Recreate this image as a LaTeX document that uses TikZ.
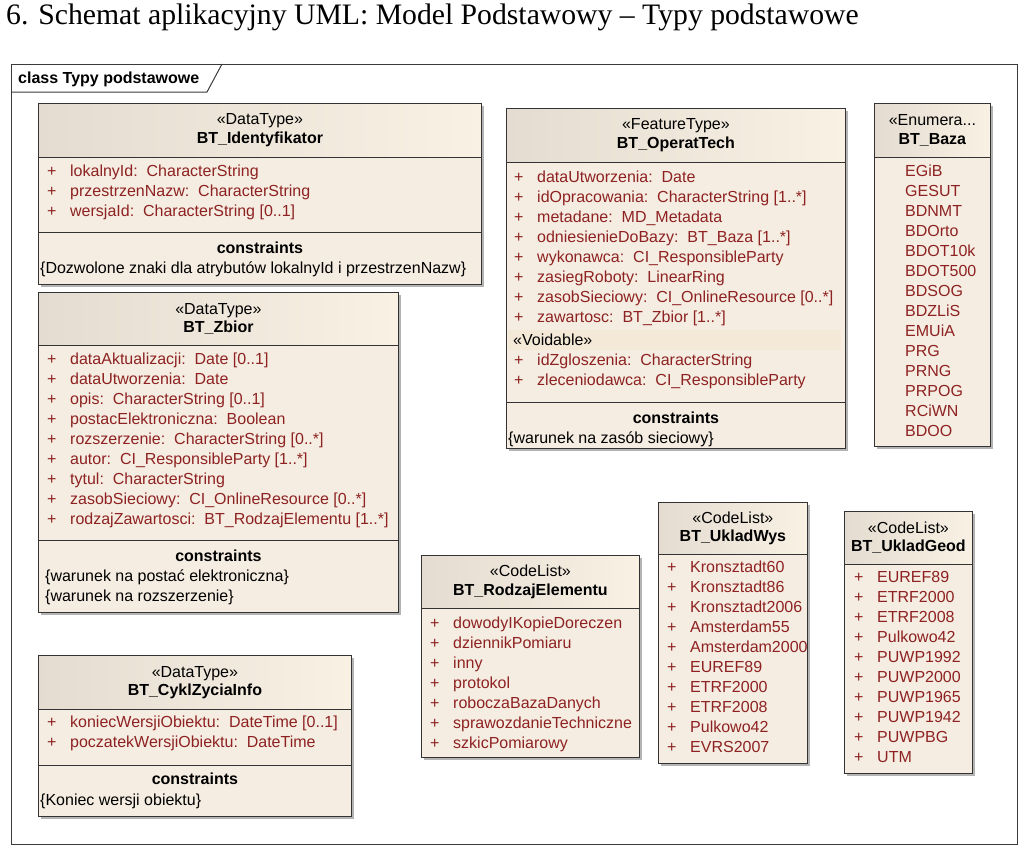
\documentclass[tikz,border=0pt]{standalone}
\usepackage{fontspec}
\setmainfont{Liberation Sans}
\newfontfamily\titlefont{Liberation Serif}
\usetikzlibrary{shadows}
\definecolor{body}{HTML}{F5EDE1}
\definecolor{hdrl}{HTML}{E4DCD0}
\definecolor{hdrr}{HTML}{F9F1E4}
\definecolor{voidband}{HTML}{F4E9D7}
\definecolor{attred}{HTML}{8E2222}
\definecolor{shade}{HTML}{B4B4B4}
\definecolor{frameline}{HTML}{3A3A3A}

\newcommand{\plusrows}[1]{\begin{tabular}[t]{@{}p{23pt}@{}l@{}}#1\end{tabular}}
\newcommand{\plainrows}[1]{\begin{tabular}[t]{@{}l@{}}#1\end{tabular}}

\begin{document}
\begin{tikzpicture}[
  x=1pt, y=-1pt,
  font=\fontsize{16}{20}\selectfont,
  cls/.style={draw=black!80, line width=0.8pt, fill=body, anchor=north west, inner sep=0pt,
              drop shadow={shadow xshift=3pt, shadow yshift=-3pt, fill=shade, opacity=1}},
  hdr/.style={draw=black!80, line width=0.8pt, left color=hdrl, right color=hdrr,
              anchor=north west, inner sep=0pt, align=center,
              font=\fontsize{16}{18.5}\selectfont,
              execute at begin node=\rule{0pt}{17.5pt}},
  attr/.style={anchor=base west, inner sep=0pt, text=attred},
  cons/.style={anchor=base west, inner sep=0pt},
  ctitle/.style={anchor=base, inner sep=0pt, font=\fontsize{16}{20}\selectfont\bfseries},
  sep/.style={draw=black!80, line width=0.8pt},
  void/.style={fill=voidband, anchor=north west, inner xsep=5pt, inner ysep=0pt,
               minimum height=20pt, text width=323pt, align=left},
]
\useasboundingbox (0,0) rectangle (1024,851);

\node[anchor=base west, inner sep=0pt, font=\titlefont\fontsize{29.7}{32}\selectfont] (title) at (6,25)
  {6. Schemat aplikacyjny UML: Model Podstawowy – Typy podstawowe};

% diagram frame
\node[draw=frameline, line width=1.2pt, anchor=north west, inner sep=0pt,
      minimum width=1006pt, minimum height=780pt] (frm) at (11,64) {};
\draw[frameline, line width=1pt] (11,92) -- (207,92) -- (222,64);
\node[anchor=base west, inner sep=0pt, font=\fontsize{16}{18}\selectfont\bfseries] (frm-t) at (18,83) {class Typy podstawowe};

% BT_Identyfikator
\node[cls, minimum width=443pt, minimum height=181pt] (idf) at (38,103) {};
\node[hdr, minimum width=443pt, minimum height=54pt] (idf-h) at (idf.north west) {«DataType»\\\textbf{BT\_Identyfikator}};
\draw[sep] (idf.west |- 0,232) -- (idf.east |- 0,232);
\node[attr] (idf-a) at (47,176) {\plusrows{+ & lokalnyId:~~CharacterString\\ + & przestrzenNazw:~~CharacterString\\ + & wersjaId:~~CharacterString [0..1]}};
\node[ctitle] (idf-c) at (idf.center |- 0,253) {constraints};
\node[cons] (idf-k) at (40,273) {\{Dozwolone znaki dla atrybutów lokalnyId i przestrzenNazw\}};

% BT_Zbior
\node[cls, minimum width=360pt, minimum height=320pt] (zb) at (38,292) {};
\node[hdr, minimum width=360pt, minimum height=53pt] (zb-h) at (zb.north west) {«DataType»\\\textbf{BT\_Zbior}};
\draw[sep] (zb.west |- 0,540) -- (zb.east |- 0,540);
\node[attr] (zb-a) at (47,364) {\plusrows{+ & dataAktualizacji:~~Date [0..1]\\ + & dataUtworzenia:~~Date\\ + & opis:~~CharacterString [0..1]\\ + & postacElektroniczna:~~Boolean\\ + & rozszerzenie:~~CharacterString [0..*]\\ + & autor:~~CI\_ResponsibleParty [1..*]\\ + & tytul:~~CharacterString\\ + & zasobSieciowy:~~CI\_OnlineResource [0..*]\\ + & rodzajZawartosci:~~BT\_RodzajElementu [1..*]}};
\node[ctitle] (zb-c) at (zb.center |- 0,561) {constraints};
\node[cons] (zb-k) at (45,581) {\plainrows{\{warunek na postać elektroniczna\}\\ \{warunek na rozszerzenie\}}};

% BT_OperatTech
\node[cls, minimum width=339pt, minimum height=340pt] (op) at (506,108) {};
\node[hdr, minimum width=339pt, minimum height=54pt] (op-h) at (op.north west) {«FeatureType»\\\textbf{BT\_OperatTech}};
\node[void] (op-v) at (508,330) {«Voidable»};
\draw[sep] (op.west |- 0,402) -- (op.east |- 0,402);
\node[attr] (op-a) at (514,182) {\plusrows{+ & dataUtworzenia:~~Date\\ + & idOpracowania:~~CharacterString [1..*]\\ + & metadane:~~MD\_Metadata\\ + & odniesienieDoBazy:~~BT\_Baza [1..*]\\ + & wykonawca:~~CI\_ResponsibleParty\\ + & zasiegRoboty:~~LinearRing\\ + & zasobSieciowy:~~CI\_OnlineResource [0..*]\\ + & zawartosc:~~BT\_Zbior [1..*]}};
\node[attr] (op-b) at (514,365) {\plusrows{+ & idZgloszenia:~~CharacterString\\ + & zleceniodawca:~~CI\_ResponsibleParty}};
\node[ctitle] (op-c) at (op.center |- 0,423) {constraints};
\node[cons] (op-k) at (508,443) {\{warunek na zasób sieciowy\}};

% BT_Baza
\node[cls, minimum width=116pt, minimum height=343pt] (bz) at (874,103) {};
\node[hdr, minimum width=116pt, minimum height=54pt] (bz-h) at (bz.north west) {«Enumera...\\\textbf{BT\_Baza}};
\node[attr] (bz-a) at (905,176) {\plainrows{EGiB\\ GESUT\\ BDNMT\\ BDOrto\\ BDOT10k\\ BDOT500\\ BDSOG\\ BDZLiS\\ EMUiA\\ PRG\\ PRNG\\ PRPOG\\ RCiWN\\ BDOO}};

% BT_RodzajElementu
\node[cls, minimum width=218pt, minimum height=202pt] (re) at (421,555) {};
\node[hdr, minimum width=218pt, minimum height=53pt] (re-h) at (re.north west) {«CodeList»\\\textbf{BT\_RodzajElementu}};
\node[attr] (re-a) at (430,628) {\plusrows{+ & dowodyIKopieDoreczen\\ + & dziennikPomiaru\\ + & inny\\ + & protokol\\ + & roboczaBazaDanych\\ + & sprawozdanieTechniczne\\ + & szkicPomiarowy}};

% BT_UkladWys
\node[cls, minimum width=149pt, minimum height=261pt] (uw) at (658,502) {};
\node[hdr, minimum width=149pt, minimum height=52pt] (uw-h) at (uw.north west) {«CodeList»\\\textbf{BT\_UkladWys}};
\node[attr] (uw-a) at (667,572) {\plusrows{+ & Kronsztadt60\\ + & Kronsztadt86\\ + & Kronsztadt2006\\ + & Amsterdam55\\ + & Amsterdam2000\\ + & EUREF89\\ + & ETRF2000\\ + & ETRF2008\\ + & Pulkowo42\\ + & EVRS2007}};

% BT_UkladGeod
\node[cls, minimum width=128pt, minimum height=262pt] (ug) at (844,511) {};
\node[hdr, minimum width=128pt, minimum height=53pt] (ug-h) at (ug.north west) {«CodeList»\\\textbf{BT\_UkladGeod}};
\node[attr] (ug-a) at (854,582) {\plusrows{+ & EUREF89\\ + & ETRF2000\\ + & ETRF2008\\ + & Pulkowo42\\ + & PUWP1992\\ + & PUWP2000\\ + & PUWP1965\\ + & PUWP1942\\ + & PUWPBG\\ + & UTM}};

% BT_CyklZyciaInfo
\node[cls, minimum width=313pt, minimum height=161pt] (cz) at (38,655) {};
\node[hdr, minimum width=313pt, minimum height=54pt] (cz-h) at (cz.north west) {«DataType»\\\textbf{BT\_CyklZyciaInfo}};
\draw[sep] (cz.west |- 0,765) -- (cz.east |- 0,765);
\node[attr] (cz-a) at (47,727) {\plusrows{+ & koniecWersjiObiektu:~~DateTime [0..1]\\ + & poczatekWersjiObiektu:~~DateTime}};
\node[ctitle] (cz-c) at (cz.center |- 0,784) {constraints};
\node[cons] (cz-k) at (40,805) {\{Koniec wersji obiektu\}};
\end{tikzpicture}
\end{document}
